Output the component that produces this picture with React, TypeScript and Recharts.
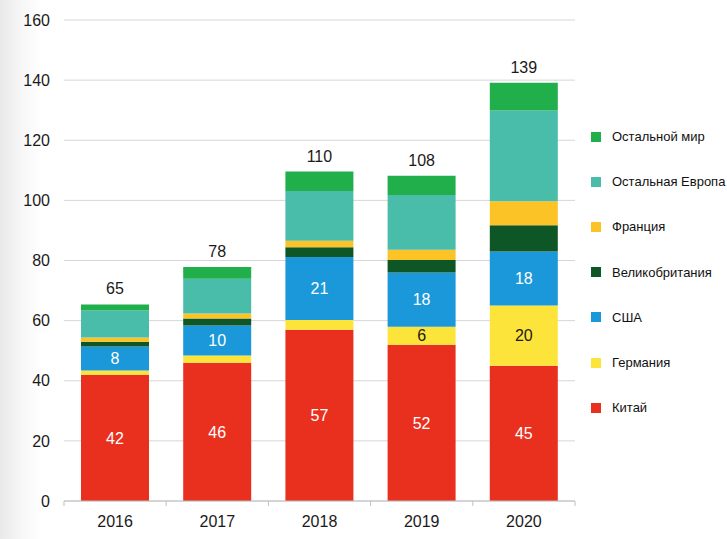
import React from 'react';
import { BarChart, Bar, XAxis, YAxis, CartesianGrid, LabelList } from 'recharts';

const years = ['2016', '2017', '2018', '2019', '2020'];
const china = [42, 46, 57, 52, 45];
const germany = [1.4, 2.4, 3.2, 6, 20];
const usa = [8, 10, 21, 18, 18];
const uk = [1.6, 2.3, 3.2, 4.2, 8.7];
const france = [1.4, 1.7, 2.2, 3.4, 8];
const restEurope = [9, 11.5, 16.5, 18.2, 30.2];
const restWorld = [2, 3.9, 6.5, 6.4, 9.2];
const totals = ['65', '78', '110', '108', '139'];
const chinaLabels = ['42', '46', '57', '52', '45'];
const usaLabels = ['8', '10', '21', '18', '18'];
const germanyLabels = ['', '', '', '6', '20'];
const yTicks = [0, 20, 40, 60, 80, 100, 120, 140, 160];

const series = [
  { key: 'china', name: 'Китай', color: '#E9301F' },
  { key: 'germany', name: 'Германия', color: '#FDE43A' },
  { key: 'usa', name: 'США', color: '#1B98DA' },
  { key: 'uk', name: 'Великобритания', color: '#0F5627' },
  { key: 'france', name: 'Франция', color: '#FBC326' },
  { key: 'restEurope', name: 'Остальная Европа', color: '#49BDAA' },
  { key: 'restWorld', name: 'Остальной мир', color: '#20AF4B' },
];

const data = years.map((year, i) => ({
  year,
  china: china[i],
  germany: germany[i],
  usa: usa[i],
  uk: uk[i],
  france: france[i],
  restEurope: restEurope[i],
  restWorld: restWorld[i],
  total: totals[i],
  chinaLabel: chinaLabels[i],
  usaLabel: usaLabels[i],
  germanyLabel: germanyLabels[i],
}));

const W = 727;
const H = 539;
const MARGIN = { top: 20, right: 152, bottom: 8, left: 0 };
const Y_AXIS_W = 64;
const BAND = (W - MARGIN.right - MARGIN.left - Y_AXIS_W) / years.length;
const FONT = '"Liberation Sans", Arial, sans-serif';

const XTick = (props: any) => {
  const { x, y, payload, index } = props;
  return (
    <g>
      <line x1={x - BAND / 2} x2={x - BAND / 2} y1={y} y2={y + 5} stroke="#bfbfbf" />
      {index === years.length - 1 && (
        <line x1={x + BAND / 2} x2={x + BAND / 2} y1={y} y2={y + 5} stroke="#bfbfbf" />
      )}
      <text x={x} y={y + 26} textAnchor="middle" fontSize={16} fill="#1a1a1a" fontFamily={FONT}>
        {payload.value}
      </text>
    </g>
  );
};

const TotalLabel = (props: any) => {
  const { x, y, width, index } = props;
  return (
    <text x={x + width / 2} y={y - 10} textAnchor="middle" fontSize={16} fill="#1a1a1a" fontFamily={FONT}>
      {totals[index]}
    </text>
  );
};

export default function App() {
  return (
    <div
      style={{
        position: 'absolute',
        left: 0,
        top: 0,
        width: W,
        height: H,
        background: 'linear-gradient(to right, #e9e9e9 0px, #f7f7f7 22px, #ffffff 42px)',
        fontFamily: FONT,
      }}
    >
      <BarChart width={W} height={H} data={data} margin={MARGIN} barCategoryGap={17}>
        <CartesianGrid vertical={false} stroke="#d6d6d6" />
        <XAxis
          dataKey="year"
          height={30}
          tickSize={0}
          tickMargin={0}
          tickLine={false}
          axisLine={{ stroke: '#bfbfbf' }}
          tick={<XTick />}
          interval={0}
        />
        <YAxis
          width={Y_AXIS_W}
          domain={[0, 160]}
          ticks={yTicks}
          axisLine={false}
          tickLine={false}
          tickMargin={8}
          tick={{ fontSize: 16, fill: '#1a1a1a', fontFamily: FONT }}
        />
        {series.map((s) => (
          <Bar key={s.key} dataKey={s.key} name={s.name} stackId="a" fill={s.color} isAnimationActive={false}>
            {s.key === 'china' && (
              <LabelList dataKey="chinaLabel" position="center" fill="#ffffff" fontSize={16} fontFamily={FONT} />
            )}
            {s.key === 'usa' && (
              <LabelList dataKey="usaLabel" position="center" fill="#ffffff" fontSize={16} fontFamily={FONT} />
            )}
            {s.key === 'germany' && (
              <LabelList dataKey="germanyLabel" position="center" fill="#1a1a1a" fontSize={16} fontFamily={FONT} />
            )}
            {s.key === 'restWorld' && <LabelList dataKey="total" content={<TotalLabel />} />}
          </Bar>
        ))}
      </BarChart>
      <div style={{ position: 'absolute', left: 591, top: 114, fontFamily: FONT, fontSize: 13 }}>
        {[...series].reverse().map((s) => (
          <div key={s.key} style={{ height: 45.2, display: 'flex', alignItems: 'center', whiteSpace: 'nowrap' }}>
            <span style={{ display: 'inline-block', width: 10, height: 10, background: s.color, marginRight: 11 }} />
            <span style={{ color: '#111' }}>{s.name}</span>
          </div>
        ))}
      </div>
    </div>
  );
}
